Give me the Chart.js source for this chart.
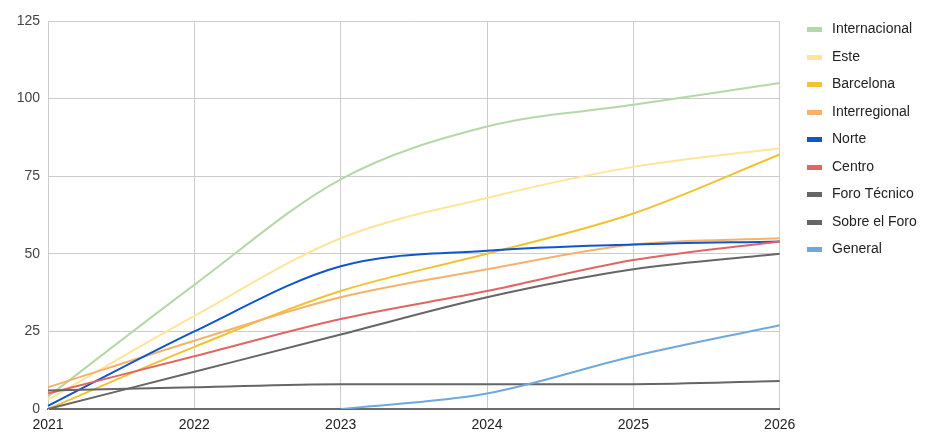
<!DOCTYPE html>
<html>
<head>
<meta charset="utf-8">
<script src="https://cdn.jsdelivr.net/npm/chart.js@4"></script>
<style>
  html, body { margin: 0; padding: 0; background: #fff; }
  #wrap { width: 936px; height: 436px; }
</style>
</head>
<body>
<div id="wrap"><canvas id="lineChart" width="936" height="436"></canvas></div>
<script>
// años del eje x
var years = ["2021", "2022", "2023", "2024", "2025", "2026"];

// series
var internacional = [4, 40, 74, 91, 98, 105];
var este          = [3, 30, 55, 68, 78, 84];
var barcelona     = [0, 20, 38, 50, 63, 82];
var interregional = [7, 22, 36, 45, 53, 55];
var norte         = [1, 25, 46, 51, 53, 54];
var centro        = [5, 17, 29, 38, 48, 54];
var foroTecnico   = [6, 7, 8, 8, 8, 9];
var sobreElForo   = [0, 12, 24, 36, 45, 50];
var general       = [null, null, 0, 5, 17, 27];

var yTicks = [0, 25, 50, 75, 100, 125];

var seriesNames = ["Internacional", "Este", "Barcelona", "Interregional", "Norte",
                   "Centro", "Foro Técnico", "Sobre el Foro", "General"];
var seriesData = [internacional, este, barcelona, interregional, norte,
                  centro, foroTecnico, sobreElForo, general];
var seriesColors = ["#b6d7a8", "#ffe599", "#f1c232", "#f6b26b", "#1155cc",
                    "#e06666", "#666666", "#666666", "#6fa8dc"];

// muestra de la leyenda: barra 15x5 con margen a los lados
function legendSwatch(color) {
    var c = document.createElement("canvas");
    c.width = 20;
    c.height = 5;
    var g = c.getContext("2d");
    g.fillStyle = color;
    g.fillRect(2, 0, 15, 5);
    return c;
}

var datasets = [];
for (var i = 0; i < seriesNames.length; i++) {
    datasets.push({
        label: seriesNames[i],
        data: seriesData[i],
        borderColor: seriesColors[i],
        backgroundColor: seriesColors[i],
        borderWidth: 2,
        pointRadius: 0,
        pointHoverRadius: 0,
        pointStyle: legendSwatch(seriesColors[i]),
        fill: false,
        cubicInterpolationMode: "monotone",
        // las últimas series se pintan encima
        order: seriesNames.length - i
    });
}

var font = { family: "'Liberation Sans', Arial, sans-serif", size: 14 };

// mueve la leyenda a su sitio
var legendShift = {
    id: "legendShift",
    afterLayout: function(chart) {
        var lg = chart.legend;
        var dx = 805 - (lg.left + 13.5);
        var dy = -12;
        lg.left += dx; lg.right += dx;
        lg.top += dy; lg.bottom += dy;
    }
};

var ctx = document.getElementById("lineChart").getContext("2d");
new Chart(ctx, {
    type: "line",
    data: { labels: years, datasets: datasets },
    plugins: [legendShift],
    options: {
        responsive: false,
        animation: false,
        layout: { padding: { top: 21, right: 21, bottom: 0, left: 0 } },
        plugins: {
            tooltip: { enabled: false },
            legend: {
                position: "right",
                align: "start",
                labels: {
                    usePointStyle: true,
                    pointStyleWidth: 20,
                    boxHeight: 5,
                    padding: 13.5,
                    color: "#222",
                    font: font,
                    sort: function(a, b) { return a.datasetIndex - b.datasetIndex; }
                }
            }
        },
        scales: {
            x: {
                offset: false,
                grid: { color: "#cccccc", drawTicks: false, lineWidth: 1 },
                border: { color: "#6b6b6b", width: 2 },
                ticks: { color: "#222", font: font, padding: 8, maxRotation: 0 },
                afterFit: function(scale) { scale.height = 27; }
            },
            y: {
                min: 0,
                max: 125,
                afterBuildTicks: function(scale) {
                    scale.ticks = yTicks.map(function(v) { return { value: v }; });
                },
                grid: { color: "#cccccc", drawTicks: false, lineWidth: 1 },
                border: { color: "#cccccc" },
                ticks: { color: "#444", font: font, padding: 8 },
                afterFit: function(scale) { scale.width = 48; }
            }
        }
    }
});
</script>
</body>
</html>
